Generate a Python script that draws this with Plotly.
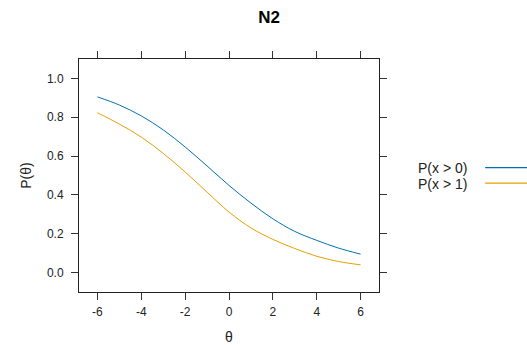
import plotly.graph_objects as go

theta = [-6, -5, -4, -3, -2, -1, 0, 1, 2, 3, 4, 5, 6]
p_gt0 = [0.905, 0.863, 0.807, 0.735, 0.647, 0.549, 0.449, 0.358, 0.277, 0.212, 0.166, 0.126, 0.095]
p_gt1 = [0.823, 0.765, 0.698, 0.614, 0.518, 0.414, 0.312, 0.230, 0.171, 0.124, 0.084, 0.057, 0.040]
series_names = ["P(x > 0)", "P(x > 1)"]
colors = ["#0072B2", "#E69F00"]
x_ticks = [-6, -4, -2, 0, 2, 4, 6]
y_ticks = [0.0, 0.2, 0.4, 0.6, 0.8, 1.0]

FONT = "Liberation Sans, Arial, Helvetica, sans-serif"

fig = go.Figure()
for ys, name, col in zip([p_gt0, p_gt1], series_names, colors):
    fig.add_trace(go.Scatter(x=theta, y=ys, mode="lines", name=name,
                             line=dict(color=col, width=1, shape="spline", smoothing=1.0),
                             showlegend=False))

axis_common = dict(showline=True, linecolor="#222", linewidth=1, mirror="ticks",
                   ticks="outside", ticklen=7, tickwidth=1, tickcolor="#333",
                   showgrid=False, zeroline=False,
                   tickfont=dict(family=FONT, size=12, color="#222"))

fig.update_xaxes(range=[-6.84, 6.84], tickvals=x_ticks,
                 ticktext=[str(v) for v in x_ticks], ticklabelstandoff=2,
                 title=dict(text="θ", font=dict(family=FONT, size=14, color="#222"), standoff=22),
                 **axis_common)
fig.update_yaxes(range=[-0.1, 1.1], tickvals=y_ticks,
                 ticktext=[f"{v:.1f}" for v in y_ticks], ticklabelstandoff=5,
                 title=dict(text="P(θ)", font=dict(family=FONT, size=14, color="#222"), standoff=12),
                 **axis_common)

# legend drawn manually (text left of line, as in lattice key)
plot_l, plot_r, plot_t, plot_b = 78.5, 379.5, 59, 291.7
W, H = 527, 345
def px_to_paper_x(px):
    return (px - plot_l) / (plot_r - plot_l)
def px_to_paper_y(py):
    return (plot_b - py) / (plot_b - plot_t)

leg_y = [168, 183.5]
for name, col, yy in zip(series_names, colors, leg_y):
    fig.add_annotation(text=name, xref="paper", yref="paper",
                       x=px_to_paper_x(417), y=px_to_paper_y(yy),
                       xanchor="left", yanchor="middle", showarrow=False,
                       font=dict(family=FONT, size=14, color="#222"))
    fig.add_shape(type="line", xref="paper", yref="paper",
                  x0=px_to_paper_x(486), x1=px_to_paper_x(530),
                  y0=px_to_paper_y(yy - 0.5), y1=px_to_paper_y(yy - 0.5),
                  line=dict(color=col, width=1.3))

fig.update_layout(
    width=W, height=H,
    margin=dict(l=plot_l, r=W - plot_r, t=plot_t, b=H - plot_b, autoexpand=False),
    paper_bgcolor="white", plot_bgcolor="white",
    title=dict(text="N2", x=269 / W, xanchor="center", y=1 - 17 / H, yanchor="middle",
               font=dict(family=FONT, size=17, color="black", weight="bold")),
)

fig.write_html("out.html")
